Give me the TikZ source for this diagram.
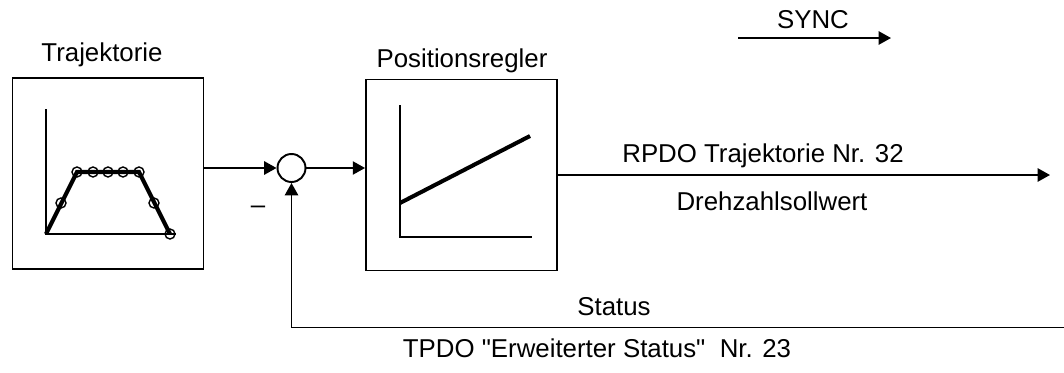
\documentclass[tikz,border=0pt]{standalone}
\usepackage{fontspec}
\setmainfont{Liberation Sans}
\usetikzlibrary{arrows.meta, positioning}

\begin{document}
\begin{tikzpicture}[x=0.02cm, y=-0.02cm, line width=1.1pt, >={Triangle[length=7pt,width=7.5pt]}]
    \tikzstyle{block}=[draw, rectangle, minimum width=3.82cm, minimum height=3.82cm, inner sep=0pt]
    \tikzstyle{sumpoint}=[draw, circle, minimum size=0.56cm, inner sep=0pt]
    \tikzstyle{lbl}=[font=\fontsize{14.7}{17}\selectfont, anchor=base, inner sep=0pt]
    \tikzstyle{curve}=[line width=2.3pt]
    \tikzstyle{marker}=[line width=0.8pt]

    \useasboundingbox (0,0) rectangle (1064,372);

    % Trajektorie
    \node[block] (traj) at (108,173.5) {};
    \node[lbl] (traj-t) at (102,61) {Trajektorie};
    \draw (46,109) -- (46,234) -- (176,234);
    \draw[curve] (46,234) -- (77,172) -- (139,172) -- (170,234);
    \foreach \x/\y in {61/203,77/172,93/172,108/172,123/172,139/172,154/203,170/234}{
        \draw[marker] (\x,\y) circle (0.1cm);
    }

    % Summe
    \node[sumpoint] (sum) at (291.5,168) {};
    \node[lbl, anchor=center] (minus) at (258,210) {\textendash};

    % Positionsregler
    \node[block] (preg) at (461.5,175) {};
    \node[lbl] (preg-t) at (462,67) {Positionsregler};
    \draw (400,105) -- (400,237) -- (532,237);
    \draw[curve] (400,203) -- (530,136);

    % SYNC
    \coordinate (sync-a) at (738,38);
    \coordinate (sync-b) at (891,38);
    \draw[->] (sync-a) -- (sync-b);
    \node[lbl] (sync-t) at (813,28.5) {SYNC};

    % Signale
    \coordinate (out) at (1050,175);
    \coordinate (fb) at (1064,327.5);
    \draw[->] (traj.east |- sum) -- (sum.west);
    \draw[->] (sum.east) -- (sum -| preg.west);
    \draw[->] (preg.east) -- (out);
    \draw[->] (fb) -- (fb -| sum) -- (sum.south);

    \node[lbl] (rpdo) at (763,162) {RPDO Trajektorie Nr. 32};
    \node[lbl] (soll) at (772,210) {Drehzahlsollwert};
    \node[lbl] (stat) at (614,315) {Status};
    \node[lbl] (tpdo) at (597,357) {TPDO \textquotedbl Erweiterter Status\textquotedbl\ \ Nr. 23};
\end{tikzpicture}
\end{document}
